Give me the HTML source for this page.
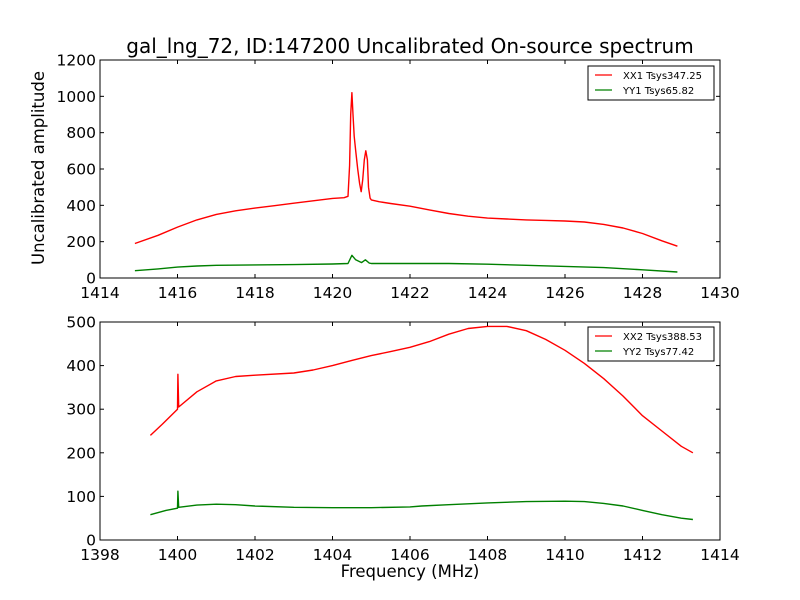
<!DOCTYPE html>
<html><head><meta charset="utf-8"><style>
body{margin:0;background:#fff;}
svg{display:block;font-family:"DejaVu Sans","Liberation Sans",sans-serif;}
</style></head><body>
<svg id="chart" width="800" height="600">
<rect width="800" height="600" fill="#fff"/>
<text x="410" y="53" font-size="20" text-anchor="middle">gal_lng_72, ID:147200 Uncalibrated On-source spectrum</text>
<text x="44" y="168" font-size="16.5" text-anchor="middle" transform="rotate(-90 44 168)">Uncalibrated amplitude</text>
<text x="410" y="577" font-size="16.5" text-anchor="middle">Frequency (MHz)</text>
<g id="top"></g>
<g id="bot"></g>
</svg>
<script>
const topFreq1=[1414.9,1415.5,1416,1416.5,1417,1417.5,1418,1418.5,1419,1419.5,1420,1420.3,1420.4,1420.44,1420.47,1420.5,1420.53,1420.56,1420.6,1420.65,1420.7,1420.74,1420.78,1420.82,1420.86,1420.9,1420.93,1420.97,1421,1421.2,1421.5,1422,1422.5,1423,1423.5,1424,1424.5,1425,1425.5,1426,1426.5,1427,1427.5,1428,1428.5,1428.9];
const topXX1=[190,235,280,320,350,370,385,398,412,425,438,442,450,620,900,1020,900,780,700,600,520,475,540,650,700,650,500,440,430,420,410,395,375,355,340,330,325,320,317,314,308,295,275,245,205,175];
const topFreq2=[1414.9,1415.5,1416,1416.5,1417,1418,1419,1420,1420.4,1420.5,1420.6,1420.75,1420.85,1420.95,1421,1422,1423,1424,1425,1426,1427,1428,1428.9];
const topYY1=[40,50,60,66,70,72,74,77,80,125,100,85,100,82,80,80,80,76,70,64,57,45,33];
const botFreq1=[1399.3,1399.6,1400,1400.01,1400.03,1400.5,1401,1401.5,1402,1403,1403.5,1404,1404.5,1405,1405.5,1406,1406.5,1407,1407.5,1408,1408.5,1409,1409.5,1410,1410.5,1411,1411.5,1412,1412.5,1413,1413.3];
const botXX2=[240,265,300,380,305,340,365,375,378,383,390,400,412,423,432,442,455,472,485,490,490,480,460,435,405,370,330,285,250,215,200];
const botFreq2=[1399.3,1399.7,1400,1400.01,1400.03,1400.5,1401,1401.5,1402,1403,1404,1405,1406,1406.3,1407,1408,1409,1410,1410.5,1411,1411.5,1412,1412.5,1413,1413.3];
const botYY2=[58,68,73,112,75,80,82,81,78,75,74,74,76,78,81,85,88,89,88,84,78,68,58,50,47];
const topXTicks=[1414,1416,1418,1420,1422,1424,1426,1428,1430];
const topYTicks=[0,200,400,600,800,1000,1200];
const botXTicks=[1398,1400,1402,1404,1406,1408,1410,1412,1414];
const botYTicks=[0,100,200,300,400,500];
const topLegend=["XX1 Tsys347.25","YY1 Tsys65.82"];
const botLegend=["XX2 Tsys388.53","YY2 Tsys77.42"];
const NS="http://www.w3.org/2000/svg";
function mk(parent,tag,attrs){const e=document.createElementNS(NS,tag);for(const k in attrs)e.setAttribute(k,attrs[k]);parent.appendChild(e);return e;}
function panel(g,top,bottom,xmin,xmax,ymax,xt,yt,series,legend,ly){
  const L=100,R=720;
  const sx=v=>L+(v-xmin)/(xmax-xmin)*(R-L);
  const sy=v=>bottom-v/ymax*(bottom-top);
  series.forEach((s,i)=>{
    const p=mk(g,'polyline',{points:s.x.map((f,j)=>sx(f).toFixed(1)+','+sy(s.y[j]).toFixed(1)).join(' '),fill:'none',stroke:s.c,'stroke-width':1.4,'stroke-linejoin':'round'});
    
    
  });
  const fr=mk(g,'rect',{x:L,y:top,width:R-L,height:bottom-top,fill:'none',stroke:'#000','stroke-width':1});
  
  
  xt.forEach(v=>{const x=sx(v);
    mk(g,'line',{x1:x,x2:x,y1:bottom,y2:bottom-4,stroke:'#000'});
    mk(g,'line',{x1:x,x2:x,y1:top,y2:top+4,stroke:'#000'});
    const t=mk(g,'text',{x:x,y:bottom+20,'font-size':15.5,'text-anchor':'middle'});t.textContent=v;
    
    });
  yt.forEach(v=>{const y=sy(v);
    mk(g,'line',{x1:L,x2:L+4,y1:y,y2:y,stroke:'#000'});
    mk(g,'line',{x1:R,x2:R-4,y1:y,y2:y,stroke:'#000'});
    const t=mk(g,'text',{x:L-4,y:y+5.5,'font-size':15.5,'text-anchor':'end'});t.textContent=v;
    
    });
  const lg=mk(g,'g',{});
  
  
  mk(lg,'rect',{x:588,y:ly,width:126,height:34,fill:'#fff',stroke:'#000'});
  legend.forEach((s,i)=>{const y=ly+9+i*15;
    mk(lg,'line',{x1:595,x2:612,y1:y,y2:y,stroke:series[i].c,'stroke-width':1.3});
    const t=mk(lg,'text',{x:623,y:y+4,'font-size':10});t.textContent=s;
    
    });
}
panel(document.getElementById('top'),60,278,1414,1430,1200,topXTicks,topYTicks,
 [{x:topFreq1,y:topXX1,c:'#ff0000',n:'xx1-line'},{x:topFreq2,y:topYY1,c:'#008000',n:'yy1-line'}],topLegend,66);
panel(document.getElementById('bot'),322,540,1398,1414,500,botXTicks,botYTicks,
 [{x:botFreq1,y:botXX2,c:'#ff0000',n:'xx2-line'},{x:botFreq2,y:botYY2,c:'#008000',n:'yy2-line'}],botLegend,327);
</script>
</body></html>
